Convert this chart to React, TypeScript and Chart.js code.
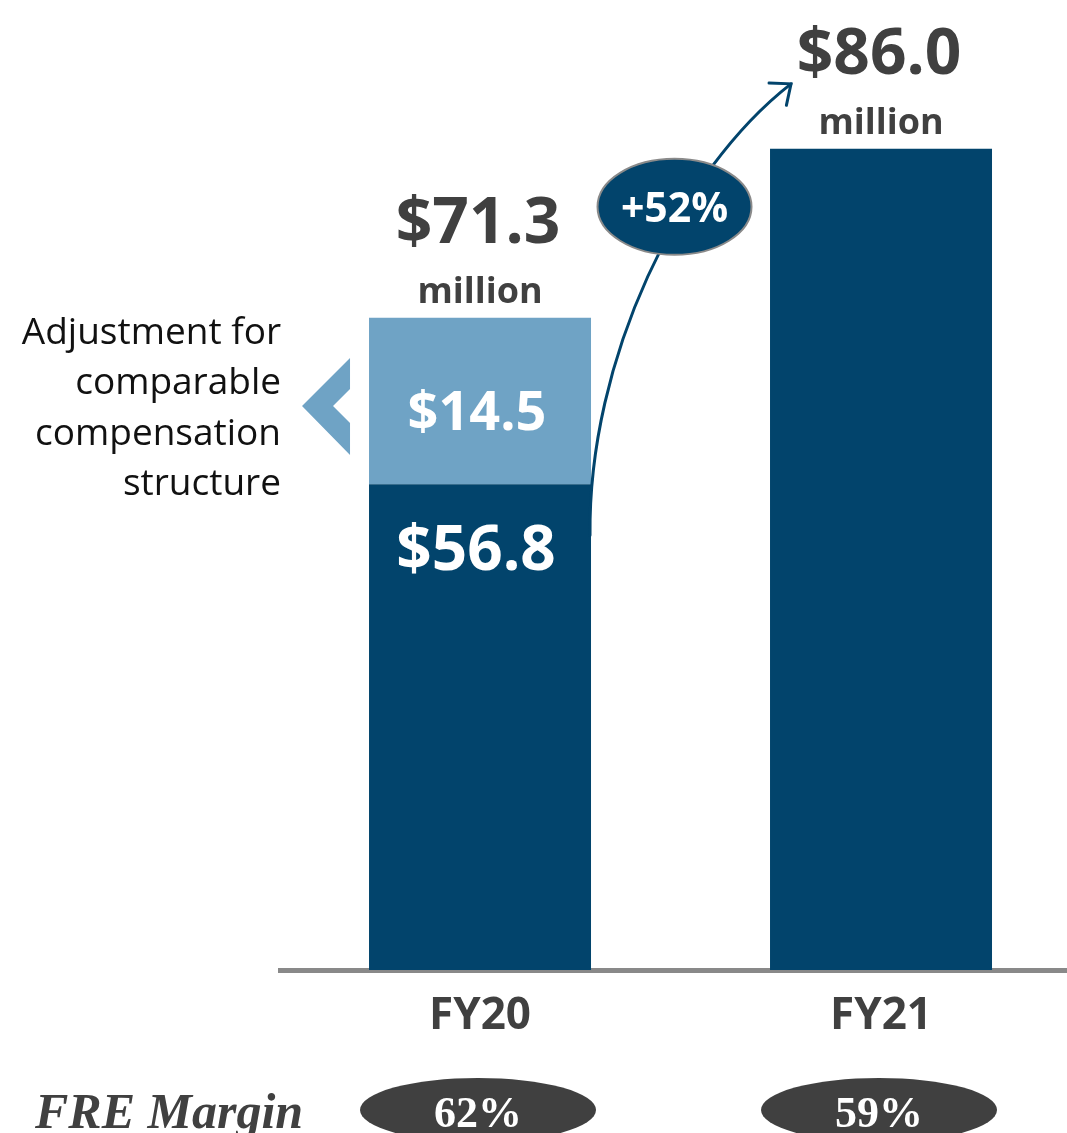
import { useEffect, useRef } from 'react';
import { Chart, registerables } from 'chart.js';

Chart.register(...registerables);

// ---- data ----
const categories = ['FY20', 'FY21'];
const baseValues = [56.8, 86.0];
const adjustmentValues: (number | null)[] = [14.5, null];
const growthLabel = '+52%';
const unitLabel = 'million';
const freMarginTitle = 'FRE Margin';
const freMargins = ['62%', '59%'];
const adjustmentNote = ['Adjustment for', 'comparable', 'compensation', 'structure'];

// ---- styles ----
const DARK = '#02446c';
const LIGHT = '#6fa3c5';
const GRAY = '#404040';
const SANS = '"Open Sans", "Noto Sans", sans-serif';
const SERIF = '"Liberation Serif", "DejaVu Serif", serif';

const fmt = (v: number) => '$' + v.toFixed(1);

const annotationPlugin = {
  id: 'annotations',
  afterDatasetsDraw(chart: any) {
    const ctx: CanvasRenderingContext2D = chart.ctx;
    const darkMeta = chart.getDatasetMeta(0);
    const lightMeta = chart.getDatasetMeta(1);
    ctx.save();

    const fy20Dark = darkMeta.data[0];
    const fy21Dark = darkMeta.data[1];

    // growth arrow (drawn first, ellipse covers it)
    const p0x = fy20Dark.x + fy20Dark.width / 2 - 1;
    const p0y = fy20Dark.y + 51;
    const p3x = fy21Dark.x - fy21Dark.width / 2 + 21;
    const p3y = fy21Dark.y - 65;
    const c1x = p0x - 2, c1y = p0y - 175;
    const c2x = p3x - 112, c2y = p3y + 87;
    ctx.strokeStyle = DARK;
    ctx.lineWidth = 3;
    ctx.lineCap = 'round';
    ctx.beginPath();
    ctx.moveTo(p0x, p0y);
    ctx.bezierCurveTo(c1x, c1y, c2x, c2y, p3x, p3y);
    ctx.stroke();
    // arrow head
    const dx = p3x - c2x, dy = p3y - c2y;
    const len = Math.hypot(dx, dy);
    const bx = -dx / len, by = -dy / len;
    const ang = (40 * Math.PI) / 180;
    const wing = 22;
    const w1x = p3x + wing * (bx * Math.cos(ang) - by * Math.sin(ang));
    const w1y = p3y + wing * (bx * Math.sin(ang) + by * Math.cos(ang));
    const w2x = p3x + wing * (bx * Math.cos(ang) + by * Math.sin(ang));
    const w2y = p3y + wing * (-bx * Math.sin(ang) + by * Math.cos(ang));
    ctx.beginPath();
    ctx.moveTo(w1x, w1y);
    ctx.lineTo(p3x, p3y);
    ctx.lineTo(w2x, w2y);
    ctx.stroke();

    // growth ellipse
    const ex = (fy20Dark.x + fy20Dark.width / 2 + fy21Dark.x - fy21Dark.width / 2) / 2 - 6;
    const ey = fy21Dark.y + 58;
    ctx.beginPath();
    ctx.ellipse(ex, ey, 77, 48, 0, 0, Math.PI * 2);
    ctx.fillStyle = DARK;
    ctx.fill();
    ctx.strokeStyle = '#8a8a8a';
    ctx.lineWidth = 2;
    ctx.stroke();
    ctx.fillStyle = '#ffffff';
    ctx.font = `bold 41px ${SANS}`;
    ctx.textAlign = 'center';
    ctx.textBaseline = 'alphabetic';
    ctx.fillText(growthLabel, ex, ey + 15);

    // totals above bars
    categories.forEach((_, i) => {
      const dark = darkMeta.data[i];
      const adj = adjustmentValues[i];
      const light = lightMeta.data[i];
      const topY = adj != null ? light.y : dark.y;
      const total = baseValues[i] + (adj ?? 0);
      ctx.fillStyle = GRAY;
      ctx.textAlign = 'center';
      ctx.font = `bold 64px ${SANS}`;
      ctx.fillText(fmt(total), dark.x - 2, topY - 75);
      ctx.font = `bold 36px ${SANS}`;
      ctx.fillText(unitLabel, dark.x, topY - 15);

      if (adj != null) {
        // values inside the stacked bar
        const lightCenter = (light.y + light.base) / 2;
        ctx.fillStyle = '#ffffff';
        ctx.font = `bold 54px ${SANS}`;
        ctx.fillText(fmt(adj), dark.x - 3, lightCenter + 29);
        ctx.font = `bold 62px ${SANS}`;
        ctx.fillText(fmt(baseValues[i]), dark.x - 4, dark.y + 86);

        // chevron
        const cx = dark.x - dark.width / 2 - 19;
        const cy = lightCenter + 5;
        ctx.fillStyle = LIGHT;
        ctx.beginPath();
        ctx.moveTo(cx - 48, cy);
        ctx.lineTo(cx, cy - 48);
        ctx.lineTo(cx, cy - 17);
        ctx.lineTo(cx - 17, cy);
        ctx.lineTo(cx, cy + 17);
        ctx.lineTo(cx, cy + 49);
        ctx.closePath();
        ctx.fill();

        // note text
        ctx.fillStyle = '#111111';
        ctx.font = `37px ${SANS}`;
        ctx.textAlign = 'right';
        const rx = dark.x - dark.width / 2 - 88;
        adjustmentNote.forEach((line, k) => {
          ctx.fillText(line, rx, light.y + 26 + k * 50.5);
        });
        ctx.textAlign = 'center';
      }

      // FRE margin pill
      const px = dark.x - 2;
      const py = 1110;
      ctx.fillStyle = GRAY;
      ctx.beginPath();
      ctx.ellipse(px, py, 118, 32, 0, 0, Math.PI * 2);
      ctx.fill();
      ctx.fillStyle = '#ffffff';
      ctx.font = `bold 44px ${SERIF}`;
      ctx.textAlign = 'center';
      ctx.fillText(freMargins[i], px, 1127);
    });

    // FRE Margin title
    ctx.fillStyle = GRAY;
    ctx.font = `italic bold 50px ${SERIF}`;
    ctx.textAlign = 'left';
    ctx.fillText(freMarginTitle, 35, 1128);

    ctx.restore();
  },
};

export default function App() {
  const canvasRef = useRef<HTMLCanvasElement>(null);

  useEffect(() => {
    document.body.style.margin = '0';
    document.body.style.overflow = 'hidden';
    const canvas = canvasRef.current;
    if (!canvas) return;

    const chart = new Chart(canvas, {
      type: 'bar',
      data: {
        datasets: [
          {
            label: 'FRE',
            data: baseValues.map((v, i) => ({ x: i, y: v })),
            backgroundColor: DARK,
            borderWidth: 0,
            stack: 's',
            clip: 0,
          } as any,
          {
            label: 'Adjustment',
            data: adjustmentValues.map((v, i) => ({ x: i, y: v })),
            backgroundColor: LIGHT,
            borderWidth: 0,
            stack: 's',
            clip: 0,
          } as any,
        ],
      },
      options: {
        animation: false,
        responsive: true,
        maintainAspectRatio: false,
        layout: { padding: { top: 11, left: 280, right: 0, bottom: 0 } },
        datasets: { bar: { categoryPercentage: 0.5536, barPercentage: 1 } },
        plugins: {
          legend: { display: false },
          tooltip: { enabled: false },
        },
        scales: {
          x: {
            type: 'linear',
            min: -0.4988,
            max: 1.4638,
            offset: false,
            stacked: true,
            grid: { display: false, drawTicks: false },
            border: { display: true, color: '#898989', width: 5 },
            ticks: {
              padding: 20,
              autoSkip: false,
              maxRotation: 0,
              color: GRAY,
              font: { family: SANS, weight: 'bold', size: 44 },
              callback: (v: any) => categories[v as number] ?? '',
            },
            afterBuildTicks: (scale: any) => {
              scale.ticks = categories.map((_, i) => ({ value: i }));
            },
            afterFit: (scale: any) => {
              scale.height = 163;
            },
          } as any,
          y: {
            display: false,
            stacked: true,
            min: 14.5,
            max: 98,
          },
        },
      },
      plugins: [annotationPlugin],
    });

    return () => chart.destroy();
  }, []);

  return (
    <div style={{ position: 'relative', width: 1067, height: 1133 }}>
      <canvas ref={canvasRef} />
    </div>
  );
}
